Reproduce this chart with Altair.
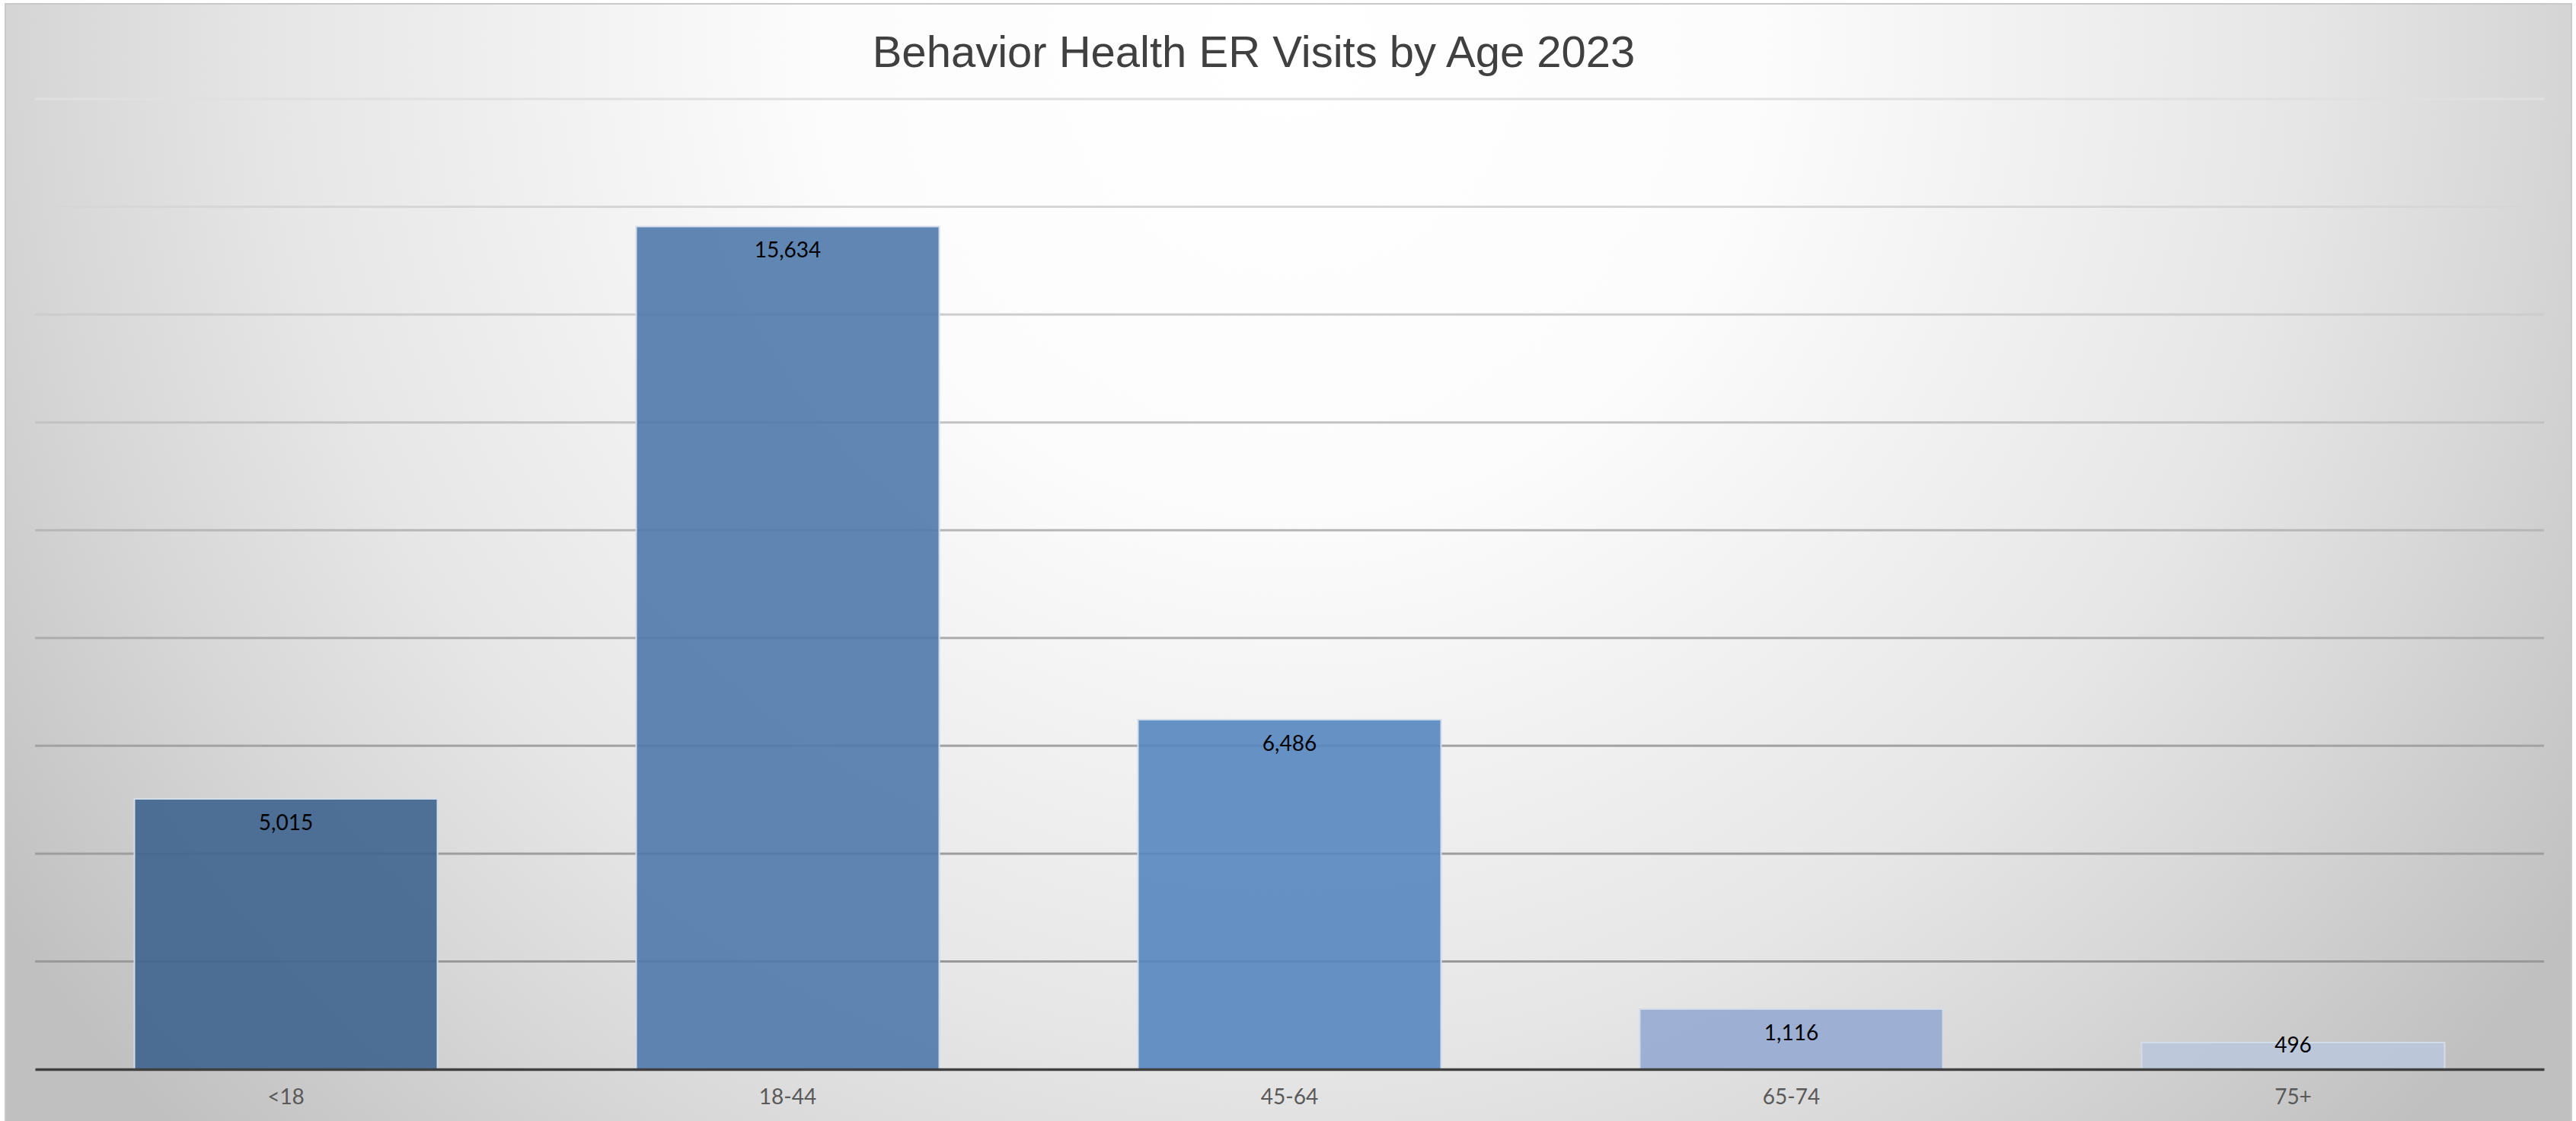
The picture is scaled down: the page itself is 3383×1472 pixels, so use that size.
import altair as alt
import pandas as pd

# ---- data ----
categories = ["<18", "18-44", "45-64", "65-74", "75+"]
visits = [5015, 15634, 6486, 1116, 496]
bar_colors = ["#3E648E", "#4F7AAC", "#5786BF", "#96ABD1", "#BAC6DC"]
grid_values = [2000, 4000, 6000, 8000, 10000, 12000, 14000, 16000, 18000]
title_text = "Behavior Health ER Visits by Age 2023"

df = pd.DataFrame({"age": categories, "visits": visits})
grid_df = pd.DataFrame({"v": grid_values})

y_scale = alt.Scale(domain=[0, 18000], nice=False, zero=True)
x_scale = alt.Scale(paddingInner=0.396, paddingOuter=0.198)

gradient = alt.RadialGradient(
    gradient="radial",
    stops=[
        alt.GradientStop(offset=0.0, color="#FFFFFF"),
        alt.GradientStop(offset=0.3, color="#FCFCFC"),
        alt.GradientStop(offset=0.65, color="#E6E6E6"),
        alt.GradientStop(offset=0.8, color="#D7D7D7"),
        alt.GradientStop(offset=1.0, color="#C0C0C0"),
    ],
    x1=0.5, y1=0.011, r1=0,
    x2=0.5, y2=0.011, r2=0.5,
)

bg = alt.Chart(pd.DataFrame({"k": [0]})).mark_rect(
    fill=gradient, stroke="#C9C9C9", strokeWidth=2, clip=False
).encode(
    x=alt.value(-39), x2=alt.value(3331), y=alt.value(-125), y2=alt.value(3975)
)

grid = alt.Chart(grid_df).mark_rule(strokeWidth=3).encode(
    y=alt.Y("v:Q", scale=y_scale, axis=None),
    color=alt.Color(
        "v:Q",
        scale=alt.Scale(domain=[2000, 6000, 12000, 18000],
                        range=["#999999", "#A2A2A2", "#C2C2C2", "#E0E0E0"]),
        legend=None,
    ),
)

x_axis = alt.Axis(
    title=None, labelAngle=0, grid=False, ticks=False, tickSize=0,
    domainColor="#404040", domainWidth=3.5, zindex=1,
    labelFont="Lato", labelFontSize=28, labelColor="#595959",
    labelPadding=37, labelBaseline="middle",
)

bars = alt.Chart(df).mark_bar(
    fillOpacity=0.9, stroke="#D3DCE9", strokeWidth=2
).encode(
    x=alt.X("age:N", sort=categories, scale=x_scale, axis=x_axis),
    y=alt.Y("visits:Q", scale=y_scale, axis=None),
    fill=alt.Fill("age:N", sort=categories,
                  scale=alt.Scale(domain=categories, range=bar_colors), legend=None),
)

labels = alt.Chart(df).transform_calculate(
    ly="max(datum.visits - 466, 424)"
).mark_text(font="Lato", fontSize=28, color="#000000", baseline="middle").encode(
    x=alt.X("age:N", sort=categories, scale=x_scale),
    y=alt.Y("ly:Q", scale=y_scale),
    text=alt.Text("visits:Q", format=","),
)

chart = alt.layer(bg, grid, bars, labels).properties(
    width=3295,
    height=1274,
    padding={"left": 46, "top": 130, "right": 42, "bottom": 68},
    autosize=alt.AutoSizeParams(type="none"),
    background="#FFFFFF",
    title=alt.TitleParams(
        text=title_text, font="Liberation Sans", fontSize=58, fontWeight="normal",
        color="#404040", anchor="middle", dx=-47, offset=-142, baseline="alphabetic",
    ),
).configure_view(stroke=None)

chart.save("out.html", embed_options={"renderer": "svg", "actions": False})
